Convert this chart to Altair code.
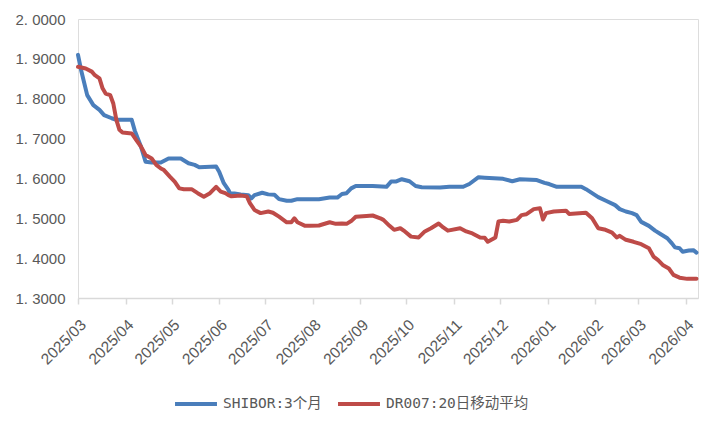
import altair as alt
import pandas as pd

shibor_dates = [
    "2025-03-01", "2025-03-03", "2025-03-07", "2025-03-11", "2025-03-15", "2025-03-18",
    "2025-03-23", "2025-03-26", "2025-04-05", "2025-04-07", "2025-04-11", "2025-04-14",
    "2025-04-18", "2025-04-24", "2025-04-29", "2025-05-07", "2025-05-12", "2025-05-16",
    "2025-05-19", "2025-05-30", "2025-06-01", "2025-06-04", "2025-06-07", "2025-06-08",
    "2025-06-11", "2025-06-15", "2025-06-20", "2025-06-22", "2025-06-24", "2025-06-29",
    "2025-07-03", "2025-07-07", "2025-07-10", "2025-07-15", "2025-07-18", "2025-07-22",
    "2025-08-05", "2025-08-12", "2025-08-17", "2025-08-20", "2025-08-23", "2025-08-26",
    "2025-08-29", "2025-09-09", "2025-09-18", "2025-09-21", "2025-09-24", "2025-09-28",
    "2025-10-03", "2025-10-07", "2025-10-11", "2025-10-23", "2025-10-29", "2025-11-07",
    "2025-11-11", "2025-11-17", "2025-11-21", "2025-12-03", "2025-12-09", "2025-12-14",
    "2025-12-25", "2025-12-30", "2026-01-02", "2026-01-07", "2026-01-23", "2026-01-26",
    "2026-01-30", "2026-02-03", "2026-02-08", "2026-02-14", "2026-02-17", "2026-02-21",
    "2026-02-25", "2026-02-28", "2026-03-03", "2026-03-08", "2026-03-12", "2026-03-15",
    "2026-03-20", "2026-03-23", "2026-03-25", "2026-03-28", "2026-03-30", "2026-04-03",
    "2026-04-06", "2026-04-08",
]
shibor_values = [
    1.910, 1.872, 1.809, 1.784, 1.772, 1.759,
    1.751, 1.747, 1.747, 1.720, 1.680, 1.642,
    1.640, 1.640, 1.650, 1.650, 1.638, 1.634,
    1.628, 1.630, 1.617, 1.588, 1.571, 1.563,
    1.562, 1.560, 1.558, 1.550, 1.558, 1.564,
    1.560, 1.559, 1.548, 1.544, 1.544, 1.548,
    1.548, 1.552, 1.552, 1.561, 1.563, 1.575,
    1.581, 1.581, 1.579, 1.592, 1.592, 1.598,
    1.593, 1.581, 1.578, 1.577, 1.579, 1.579,
    1.586, 1.603, 1.602, 1.599, 1.593, 1.598,
    1.596, 1.589, 1.586, 1.579, 1.579, 1.573,
    1.563, 1.553, 1.544, 1.533, 1.523, 1.517,
    1.513, 1.508, 1.491, 1.481, 1.469, 1.462,
    1.450, 1.437, 1.427, 1.425, 1.416, 1.419,
    1.420, 1.414,
]

dr_dates = [
    "2025-03-01", "2025-03-06", "2025-03-10", "2025-03-12", "2025-03-15", "2025-03-17",
    "2025-03-19", "2025-03-22", "2025-03-24", "2025-03-26", "2025-03-28", "2025-03-30",
    "2025-04-05", "2025-04-08", "2025-04-11", "2025-04-14", "2025-04-18", "2025-04-21",
    "2025-04-24", "2025-04-26", "2025-04-30", "2025-05-03", "2025-05-06", "2025-05-09",
    "2025-05-14", "2025-05-18", "2025-05-22", "2025-05-26", "2025-05-30", "2025-06-02",
    "2025-06-05", "2025-06-07", "2025-06-09", "2025-06-15", "2025-06-19", "2025-06-21",
    "2025-06-24", "2025-06-28", "2025-07-03", "2025-07-06", "2025-07-10", "2025-07-15",
    "2025-07-18", "2025-07-20", "2025-07-22", "2025-07-27", "2025-07-30", "2025-08-05",
    "2025-08-12", "2025-08-16", "2025-08-20", "2025-08-23", "2025-08-26", "2025-08-29",
    "2025-09-05", "2025-09-09", "2025-09-14", "2025-09-16", "2025-09-20", "2025-09-23",
    "2025-09-27", "2025-09-30", "2025-10-04", "2025-10-09", "2025-10-13", "2025-10-17",
    "2025-10-22", "2025-10-25", "2025-10-28", "2025-11-05", "2025-11-09", "2025-11-13",
    "2025-11-18", "2025-11-21", "2025-11-23", "2025-11-28", "2025-11-30", "2025-12-03",
    "2025-12-07", "2025-12-12", "2025-12-15", "2025-12-18", "2025-12-23", "2025-12-27",
    "2025-12-29", "2025-12-31", "2026-01-05", "2026-01-13", "2026-01-15", "2026-01-26",
    "2026-01-30", "2026-02-03", "2026-02-07", "2026-02-12", "2026-02-15", "2026-02-17",
    "2026-02-21", "2026-02-26", "2026-03-03", "2026-03-08", "2026-03-11", "2026-03-14",
    "2026-03-17", "2026-03-21", "2026-03-24", "2026-03-28", "2026-04-02", "2026-04-08",
]
dr_values = [
    1.880, 1.876, 1.868, 1.859, 1.851, 1.826,
    1.813, 1.809, 1.788, 1.747, 1.722, 1.715,
    1.713, 1.696, 1.680, 1.659, 1.650, 1.634,
    1.625, 1.621, 1.604, 1.592, 1.575, 1.573,
    1.573, 1.563, 1.554, 1.563, 1.579, 1.567,
    1.563, 1.558, 1.555, 1.557, 1.555, 1.538,
    1.521, 1.513, 1.517, 1.514, 1.504, 1.490,
    1.490, 1.500, 1.490, 1.481, 1.481, 1.482,
    1.490, 1.486, 1.487, 1.486, 1.493, 1.504,
    1.506, 1.507, 1.500, 1.496, 1.481, 1.471,
    1.475, 1.467, 1.454, 1.452, 1.467, 1.475,
    1.487, 1.477, 1.469, 1.475, 1.467, 1.462,
    1.452, 1.451, 1.441, 1.452, 1.492, 1.494,
    1.492, 1.496, 1.508, 1.510, 1.523, 1.525,
    1.497, 1.513, 1.517, 1.519, 1.511, 1.514,
    1.500, 1.475, 1.472, 1.464, 1.452, 1.456,
    1.446, 1.441, 1.435, 1.425, 1.404, 1.395,
    1.383, 1.374, 1.358, 1.351, 1.348, 1.348,
]

series_names = ["SHIBOR:3个月", "DR007:20日移动平均"]
series_colors = ["#4a7ebb", "#be4b48"]
y_ticks = [1.3, 1.4, 1.5, 1.6, 1.7, 1.8, 1.9, 2.0]
x_ticks = [
    "2025-03-01", "2025-04-01", "2025-05-01", "2025-06-01", "2025-07-01", "2025-08-01",
    "2025-09-01", "2025-10-01", "2025-11-01", "2025-12-01", "2026-01-01", "2026-02-01",
    "2026-03-01", "2026-04-01",
]

df = pd.concat([
    pd.DataFrame({"date": shibor_dates, "value": shibor_values, "series": series_names[0]}),
    pd.DataFrame({"date": dr_dates, "value": dr_values, "series": series_names[1]}),
])

tick_vals = [alt.DateTime(year=int(d[:4]), month=int(d[5:7]), date=int(d[8:10])) for d in x_ticks]

chart = alt.Chart(df).mark_line(strokeWidth=4, strokeJoin="round", strokeCap="round").encode(
    x=alt.X(
        "date:T",
        scale=alt.Scale(domain=[alt.DateTime(year=2025, month=3, date=1),
                                alt.DateTime(year=2026, month=4, date=9)]),
        axis=alt.Axis(
            values=tick_vals, format="%Y/%m", labelAngle=-45, title=None,
            grid=False, domainColor="#d9d9d9", domainWidth=1.5,
            tickColor="#d9d9d9", tickSize=6, tickWidth=1.5,
            labelFont="Liberation Sans", labelFontSize=15.5, labelColor="#595959",
            labelPadding=13, labelOverlap=False,
        ),
    ),
    y=alt.Y(
        "value:Q",
        scale=alt.Scale(domain=[1.3, 2.0], nice=False, zero=False),
        axis=alt.Axis(
            values=y_ticks, title=None, grid=False, domain=False,
            labelExpr="replace(format(datum.value, '.4f'), '.', '. ')",
            ticks=False, labelFont="Liberation Sans", labelFontSize=15,
            labelColor="#595959", labelPadding=13,
        ),
    ),
    color=alt.Color(
        "series:N",
        scale=alt.Scale(domain=series_names, range=series_colors),
        sort=series_names,
        legend=alt.Legend(
            title=None, orient="none", legendX=95, legendY=362, direction="horizontal",
            symbolType="stroke", symbolStrokeWidth=4, symbolSize=1760,
            labelFont="DejaVu Sans Mono, Noto Sans CJK SC", labelFontSize=14.5,
            labelColor="#595959", columnPadding=8, labelOffset=4, labelLimit=300,
        ),
    ),
    order=alt.Order("date:T"),
).properties(
    width=620, height=279,
    autosize=alt.AutoSizeParams(type="none"),
    padding={"left": 78, "top": 19, "right": 22, "bottom": 134},
).configure_view(stroke=None).configure(background="white")

chart.save("out.html", embed_options={"renderer": "svg", "actions": False})
